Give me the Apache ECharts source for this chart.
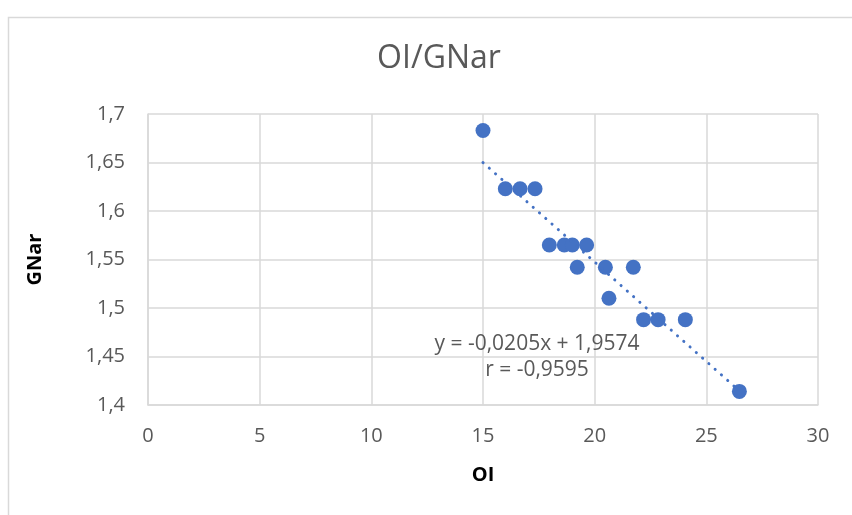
<!DOCTYPE html>
<html><head><meta charset="utf-8">
<script src="https://cdn.jsdelivr.net/npm/echarts@6/dist/echarts.min.js"></script>
<style>html,body{margin:0;padding:0;background:#fff}#c{width:852px;height:515px}</style>
</head><body><div id="c"></div>
<script>
const title = "OI/GNar";
const xName = "OI";
const yName = "GNar";
const oiValues = [15.0, 16.0, 16.66, 17.33, 17.97, 18.64, 19.0, 19.64, 19.22, 20.48, 21.73, 20.64, 22.19, 22.84, 24.06, 26.48];
const gnarValues = [1.683, 1.623, 1.623, 1.623, 1.565, 1.565, 1.565, 1.565, 1.542, 1.542, 1.542, 1.510, 1.488, 1.488, 1.488, 1.414];
const trendSlope = -0.0205;
const trendIntercept = 1.9574;
const trendX = [15.0, 26.48];
const eqText = "y = -0,0205x + 1,9574";
const rText = "r = -0,9595";

const font = "'Open Sans', 'Noto Sans', sans-serif";
const blue = "#4472C4";
const grey = "#595959";
const gridC = "#d9d9d9";

const points = oiValues.map((x, i) => [x, gnarValues[i]]);
const trend = trendX.map(x => [x, trendSlope * x + trendIntercept]);
const comma = v => String(v).replace('.', ',');

const chart = echarts.init(document.getElementById('c'), null, {renderer: 'canvas'});
chart.setOption({
  animation: false,
  backgroundColor: '#fff',
  title: {text: title, left: 434, top: 38, textAlign: 'center',
    textStyle: {fontFamily: font, fontSize: 32, fontWeight: 'normal', color: grey}},
  grid: {left: 148, right: 34, top: 114, bottom: 110, containLabel: false},
  xAxis: {type: 'value', min: 0, max: 30, interval: 5,
    name: xName, nameLocation: 'middle', nameGap: 60,
    nameTextStyle: {fontFamily: font, fontSize: 20, fontWeight: 'bold', color: '#000'},
    axisLine: {show: true, lineStyle: {color: gridC, width: 1.5}},
    axisTick: {show: false},
    axisLabel: {fontFamily: font, fontSize: 20, color: grey, margin: 21, formatter: comma},
    splitLine: {show: true, lineStyle: {color: gridC, width: 1.5}}},
  yAxis: {type: 'value', min: 1.4, max: 1.7, interval: 0.05,
    name: yName, nameLocation: 'middle', nameGap: 103, nameRotate: 90,
    nameTextStyle: {fontFamily: font, fontSize: 20, fontWeight: 'bold', color: '#000'},
    axisLine: {show: true, lineStyle: {color: gridC, width: 1.5}},
    axisTick: {show: false},
    axisLabel: {fontFamily: font, fontSize: 20, color: grey, margin: 23,
      formatter: v => comma(Math.round(v * 100) / 100)},
    splitLine: {show: true, lineStyle: {color: gridC, width: 1.5}}},
  graphic: [
    {type: 'rect', left: 6, top: 15, z: -10, silent: true,
     shape: {width: 900, height: 600}, style: {fill: 'none', stroke: gridC, lineWidth: 1.5}},
    {type: 'text', x: 537, y: 344, z: 100, style: {text: eqText, font: "21px " + font, fill: grey, align: 'center', verticalAlign: 'middle'}},
    {type: 'text', x: 537, y: 370, z: 100, style: {text: rText, font: "21px " + font, fill: grey, align: 'center', verticalAlign: 'middle'}}
  ],
  series: [
    {type: 'scatter', data: points, symbol: 'circle', symbolSize: 15,
     itemStyle: {color: blue, opacity: 1}, z: 2},
    {type: 'line', data: trend, showSymbol: false, symbol: 'none', z: 3,
     lineStyle: {color: blue, width: 3, type: [0.1, 8.3], cap: 'round'}}
  ]
});
</script></body></html>
